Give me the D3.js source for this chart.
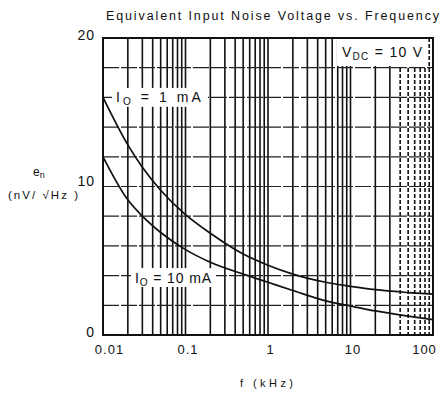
<!DOCTYPE html>
<html>
<head>
<meta charset="utf-8">
<script src="https://cdn.jsdelivr.net/npm/d3@7"></script>
<style>
  html, body { margin: 0; padding: 0; background: #fff; }
  svg { display: block; }
</style>
</head>
<body>
<div id="chart"></div>
<script>
// data
const freqs = [0.01, 0.02, 0.03, 0.05, 0.1, 0.2, 0.5, 1, 2, 5, 10, 20, 50, 100];
const noise1mA = [16.0, 12.8, 11.3, 9.75, 8.1, 6.85, 5.45, 4.7, 4.1, 3.55, 3.28, 3.05, 2.86, 2.75];
const noise10mA = [12.0, 9.1, 8.0, 6.9, 5.75, 4.9, 4.1, 3.55, 3.0, 2.3, 1.95, 1.62, 1.27, 1.04];
const xTicks = [0.01, 0.1, 1, 10, 100];
const xTickLabels = ["0.01", "0.1", "1", "10", "100"];
const yTicks = [0, 10, 20];

const W = 444, H = 394;
const margin = { t: 38, r: 11, b: 59, l: 103 };
const font = "'Liberation Sans', Arial, sans-serif";
const ink = "#111";

const svg = d3.select("#chart").append("svg")
  .attr("width", W).attr("height", H)
  .attr("font-family", font);

const x = d3.scaleLog().domain([0.01, 100]).range([margin.l, W - margin.r]);
const y = d3.scaleLinear().domain([0, 20]).range([H - margin.b, margin.t]);

// minor + major vertical grid (1..9 per decade)
const vGrid = [];
for (let d = 0.01; d < 100; d *= 10) {
  for (let k = 1; k < 10; k++) vGrid.push(+(d * k).toPrecision(3));
}
svg.append("g")
  .selectAll("line")
  .data(vGrid)
  .join("line")
  .attr("x1", (d) => x(d)).attr("x2", (d) => x(d))
  .attr("y1", y(20)).attr("y2", y(0))
  .attr("stroke", ink)
  .attr("stroke-width", 1.6)
  .attr("stroke-dasharray", (d) => (d > 30 ? "4,2" : null));

// horizontal grid every 2
svg.append("g")
  .selectAll("line")
  .data(d3.range(2, 20, 2))
  .join("line")
  .attr("x1", x(0.01)).attr("x2", x(100))
  .attr("y1", (d) => y(d)).attr("y2", (d) => y(d))
  .attr("stroke", "#222")
  .attr("stroke-width", 1.2)
  .attr("stroke-dasharray", "16,2");

// frame
svg.append("rect")
  .attr("x", x(0.01)).attr("y", y(20))
  .attr("width", x(100) - x(0.01)).attr("height", y(0) - y(20))
  .attr("fill", "none").attr("stroke", ink).attr("stroke-width", 2);

// curves
const line = d3.line()
  .curve(d3.curveMonotoneX)
  .x((d) => x(d[0]))
  .y((d) => y(d[1]));

[noise1mA, noise10mA].forEach((vals) => {
  svg.append("path")
    .attr("d", line(freqs.map((f, i) => [f, vals[i]])))
    .attr("fill", "none")
    .attr("stroke", ink)
    .attr("stroke-width", 1.7);
});

// in-plot labels, white backing breaks the grid like the original
function label(x0, x1, py, main, sub, rest, size) {
  svg.append("rect")
    .attr("x", x0 - 4).attr("y", py - size * 0.75)
    .attr("width", x1 - x0 + 8).attr("height", size * 1.35)
    .attr("fill", "#fff");
  const t = svg.append("text")
    .attr("x", x0).attr("y", py)
    .attr("font-size", size)
    .attr("dominant-baseline", "middle")
    .attr("fill", ink);
  t.append("tspan").text(main);
  t.append("tspan").text(sub).attr("font-size", size * 0.72).attr("dy", 4);
  t.append("tspan").text(rest).attr("dy", -4);
  const len = t.node().getComputedTextLength();
  const extra = (x1 - x0 - len) / (main.length + sub.length + rest.length);
  t.attr("letter-spacing", extra);
  return t;
}

label(116, 204, y(16) + 1, "I", "O", " = 1 mA", 14);
label(135, 212, y(4) + 3, "I", "O", " = 10 mA", 14);

// V_DC note in upper right
svg.append("rect")
  .attr("x", 337).attr("y", y(20) + 1)
  .attr("width", 90).attr("height", 27)
  .attr("fill", "#fff");
const vt = svg.append("text")
  .attr("x", 342).attr("y", 53)
  .attr("dominant-baseline", "middle")
  .attr("font-size", 14).attr("fill", ink);
vt.append("tspan").text("V");
vt.append("tspan").text("DC").attr("font-size", 10).attr("dy", 4);
vt.append("tspan").text(" = 10 V").attr("dy", -4);
{
  const len = vt.node().getComputedTextLength();
  vt.attr("letter-spacing", (80 - len) / 9);
}

// axes
const ax = svg.append("g")
  .attr("transform", `translate(0,${y(0)})`)
  .call(d3.axisBottom(x).tickValues(xTicks).tickSize(0).tickPadding(10)
    .tickFormat((d, i) => xTickLabels[i]));
ax.select(".domain").remove();
ax.selectAll("text")
  .attr("font-size", 13).attr("font-family", font).attr("fill", ink)
  .attr("letter-spacing", 1)
  .attr("dx", (d, i) => (i === 0 ? 6 : i === xTicks.length - 1 ? -9 : 2));

const ay = svg.append("g")
  .attr("transform", `translate(${x(0.01)},0)`)
  .call(d3.axisLeft(y).tickValues(yTicks).tickSize(0).tickPadding(8));
ay.select(".domain").remove();
ay.selectAll("text")
  .attr("font-size", 14).attr("font-family", font).attr("fill", ink)
  .attr("letter-spacing", 1)
  .attr("dy", (d) => (d === 10 ? "-0.05em" : "0.12em"));

// title & axis titles
svg.append("text")
  .attr("x", 106).attr("y", 20)
  .attr("font-size", 12.5)
  .attr("textLength", 333).attr("lengthAdjust", "spacing")
  .attr("fill", ink)
  .text("Equivalent Input Noise Voltage vs. Frequency");

const yl = svg.append("text")
  .attr("x", 33).attr("y", 176)
  .attr("font-size", 12).attr("fill", ink);
yl.append("tspan").text("e");
yl.append("tspan").text("n").attr("font-size", 9).attr("dy", 2);

svg.append("text")
  .attr("x", 8).attr("y", 199)
  .attr("font-size", 11.5).attr("fill", ink)
  .attr("textLength", 70).attr("lengthAdjust", "spacing")
  .text("(nV/ \u221AHz )");

svg.append("text")
  .attr("x", 240).attr("y", 387)
  .attr("font-size", 11).attr("fill", ink)
  .attr("textLength", 53).attr("lengthAdjust", "spacing")
  .text("f (kHz)");
</script>
</body>
</html>
